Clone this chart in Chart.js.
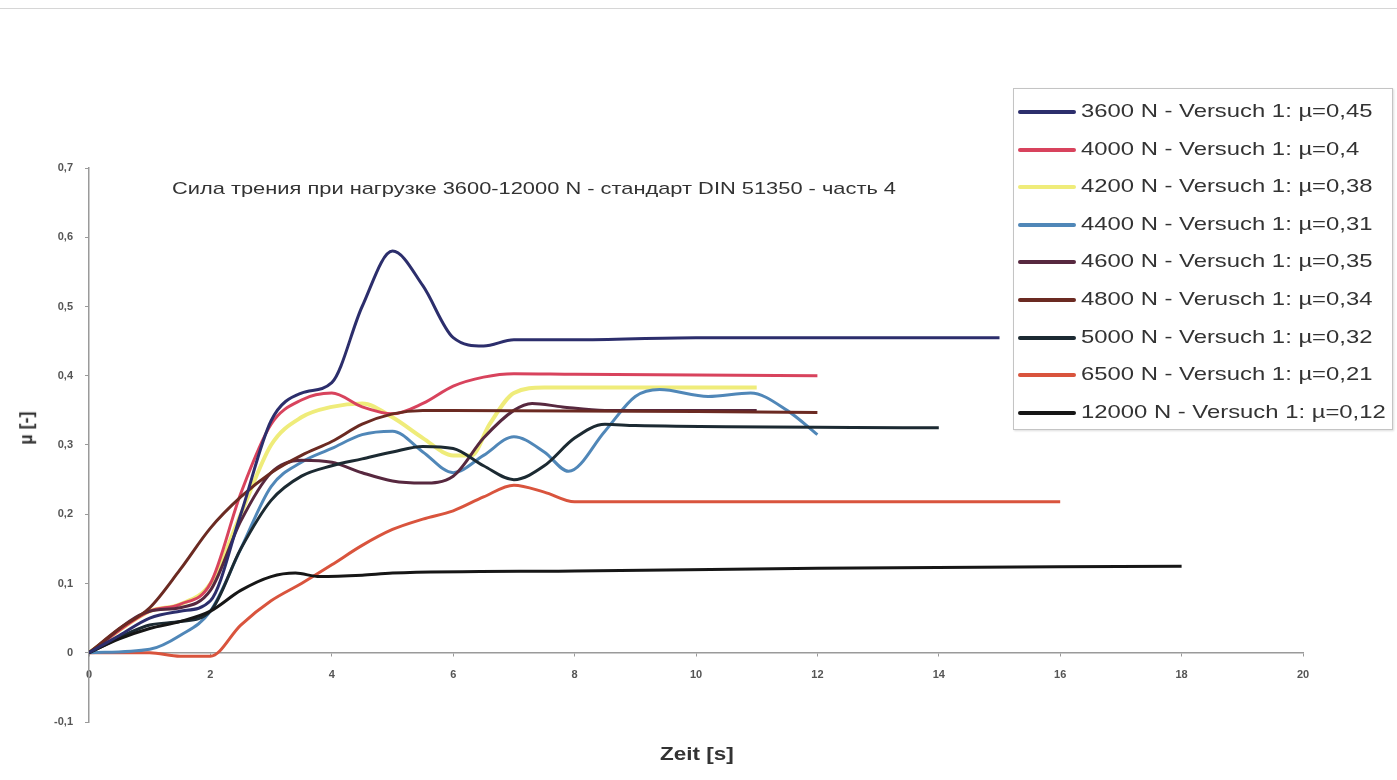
<!DOCTYPE html>
<html>
<head>
<meta charset="utf-8">
<title>Reibkraft DIN 51350</title>
<script src="https://cdn.jsdelivr.net/npm/chart.js@4.4.0/dist/chart.umd.min.js"></script>
<style>
  html, body { margin: 0; padding: 0; background: #fff; }
  #wrap { position: relative; width: 1397px; height: 780px; overflow: hidden; font-family: "Liberation Sans", Arial, sans-serif; }
  #topRule { position: absolute; left: 0; top: 8px; width: 1397px; height: 1px; background: #d6d6d6; }
  #frictionChart { position: absolute; left: 0; top: 0; }
  #chartTitle { position: absolute; left: 172px; top: 179px; font-size: 17px; color: #333; white-space: nowrap; transform: scaleX(1.285); transform-origin: left top; }
  #xTitle { position: absolute; left: 660px; top: 744px; font-size: 18px; font-weight: bold; color: #333; white-space: nowrap; transform: scaleX(1.25); transform-origin: left top; }
  #yTitle { position: absolute; left: 10px; top: 428px; font-size: 18px; font-weight: bold; color: #333; white-space: nowrap; transform: translate(0, -50%) rotate(-90deg); transform-origin: center; }
  #legend { position: absolute; left: 1013px; top: 88px; width: 378px; height: 340px; border: 1px solid #c4c4c4; box-shadow: 1px 1px 2px #ddd; background: #fff; }
  .legend-row { position: absolute; left: 4px; height: 24px; white-space: nowrap; }
  .legend-swatch { position: absolute; left: 0; top: 10px; width: 58px; height: 4px; border-radius: 2px; }
  .legend-text { position: absolute; left: 63px; top: 0; font-size: 19px; color: #333; transform: scaleX(1.255); transform-origin: left top; }
</style>
</head>
<body>
<div id="wrap">
  <div id="topRule"></div>
  <canvas id="frictionChart" width="1397" height="780"></canvas>
  <div id="chartTitle">Сила трения при нагрузке 3600-12000 N - стандарт DIN 51350 - часть 4</div>
  <div id="yTitle">µ [-]</div>
  <div id="xTitle">Zeit [s]</div>
  <div id="legend"></div>
</div>
<script>
// time [s] and friction coefficient per test load
const t3600 = [0, 0.5, 1, 1.5, 2, 2.5, 3, 3.5, 4, 4.5, 5, 5.5, 6, 6.5, 7, 8, 10, 15];
const mu3600 = [0, 0.025, 0.05, 0.06, 0.075, 0.2, 0.335, 0.375, 0.39, 0.5, 0.58, 0.53, 0.455, 0.443, 0.452, 0.452, 0.455, 0.455];

const t4000 = [0, 1, 1.5, 2, 2.5, 3, 3.5, 4, 4.5, 5, 5.5, 6, 6.5, 7, 8, 12];
const mu4000 = [0, 0.06, 0.07, 0.1, 0.23, 0.33, 0.365, 0.375, 0.355, 0.345, 0.36, 0.385, 0.398, 0.403, 0.402, 0.4];

const t4200 = [0, 1, 1.5, 2, 2.5, 3, 3.5, 4, 4.5, 5, 5.5, 6, 6.3, 6.6, 7, 7.5, 9, 11];
const mu4200 = [0, 0.06, 0.07, 0.1, 0.2, 0.3, 0.34, 0.355, 0.36, 0.34, 0.31, 0.285, 0.285, 0.33, 0.375, 0.383, 0.383, 0.383];

const t4400 = [0, 1, 1.5, 2, 2.5, 3, 3.5, 4, 4.5, 5, 5.5, 6, 6.5, 7, 7.5, 7.9, 8.5, 9, 9.4, 10.2, 10.9, 11.5, 12];
const mu4400 = [0, 0.005, 0.025, 0.06, 0.15, 0.24, 0.275, 0.295, 0.315, 0.32, 0.29, 0.26, 0.285, 0.312, 0.29, 0.262, 0.32, 0.37, 0.38, 0.37, 0.375, 0.35, 0.315];

const t4600 = [0, 1, 1.5, 2, 2.5, 3, 3.5, 4, 4.5, 5, 5.5, 6, 6.5, 7, 7.3, 7.8, 8.5, 11];
const mu4600 = [0, 0.06, 0.065, 0.09, 0.19, 0.26, 0.278, 0.275, 0.26, 0.248, 0.245, 0.255, 0.31, 0.35, 0.36, 0.355, 0.35, 0.35];

const t4800 = [0, 0.5, 1, 1.5, 2, 2.5, 3, 3.5, 4, 4.5, 5, 5.5, 6, 12];
const mu4800 = [0, 0.035, 0.065, 0.12, 0.18, 0.225, 0.26, 0.285, 0.305, 0.33, 0.345, 0.35, 0.35, 0.347];

const t5000 = [0, 1, 1.5, 2, 2.5, 3, 3.5, 4, 4.5, 5, 5.5, 6, 6.5, 7, 7.5, 8, 8.5, 9, 14];
const mu5000 = [0, 0.04, 0.045, 0.06, 0.15, 0.22, 0.255, 0.27, 0.28, 0.29, 0.298, 0.295, 0.27, 0.25, 0.27, 0.31, 0.33, 0.328, 0.325];

const t6500 = [0, 1, 1.5, 2, 2.5, 3, 3.5, 4, 4.5, 5, 5.5, 6, 6.5, 7, 7.5, 8, 10, 16];
const mu6500 = [0, 0, -0.005, -0.005, 0.04, 0.075, 0.1, 0.127, 0.155, 0.178, 0.193, 0.205, 0.225, 0.242, 0.232, 0.218, 0.218, 0.218];

const t12000 = [0, 0.5, 1, 1.5, 2, 2.5, 3, 3.4, 3.8, 4.5, 5, 8, 12, 18];
const mu12000 = [0, 0.02, 0.035, 0.045, 0.06, 0.09, 0.11, 0.115, 0.11, 0.112, 0.115, 0.118, 0.122, 0.125];

const seriesLabels = [
  "3600 N - Versuch 1: µ=0,45",
  "4000 N - Versuch 1: µ=0,4",
  "4200 N - Versuch 1: µ=0,38",
  "4400 N - Versuch 1: µ=0,31",
  "4600 N - Versuch 1: µ=0,35",
  "4800 N - Verusch 1: µ=0,34",
  "5000 N - Versuch 1: µ=0,32",
  "6500 N - Versuch 1: µ=0,21",
  "12000 N - Versuch 1: µ=0,12",
];
const seriesTimes = [t3600, t4000, t4200, t4400, t4600, t4800, t5000, t6500, t12000];
const seriesMu = [mu3600, mu4000, mu4200, mu4400, mu4600, mu4800, mu5000, mu6500, mu12000];
const seriesColors = ["#2c2e6c", "#d8435d", "#efec7a", "#5087b8", "#57283f", "#6b2a22", "#1c2a32", "#d9543d", "#161616"];

const xTicks = [0, 2, 4, 6, 8, 10, 12, 14, 16, 18, 20];
const yTicks = [-0.1, 0, 0.1, 0.2, 0.3, 0.4, 0.5, 0.6, 0.7];

function toPoints(xs, ys) {
  return xs.map((x, i) => ({ x: x, y: ys[i] }));
}

function formatMu(value) {
  const r = Math.round(value * 10) / 10;
  if (r === 0) return "0";
  return r.toFixed(1).replace(".", ",");
}

function buildLegend() {
  const box = document.getElementById("legend");
  seriesLabels.forEach((label, i) => {
    const row = document.createElement("div");
    row.className = "legend-row";
    row.style.top = (11 + i * 37.6) + "px";
    row.innerHTML =
      '<span class="legend-swatch" style="background:' + seriesColors[i] + '"></span>' +
      '<span class="legend-text">' + label + "</span>";
    box.appendChild(row);
  });
}

const datasets = seriesLabels.map((label, i) => ({
  label: label,
  data: toPoints(seriesTimes[i], seriesMu[i]),
  borderColor: seriesColors[i],
  backgroundColor: seriesColors[i],
  showLine: true,
  fill: false,
  borderWidth: i === 2 ? 4 : 3,
  pointRadius: 0,
  cubicInterpolationMode: "monotone",
}));

// draw light lines first so the dark ones sit on top, like the original
const drawOrder = [2, 1, 7, 3, 4, 5, 6, 8, 0];
drawOrder.forEach((idx, pos) => { datasets[idx].order = datasets.length - pos; });

const axisGray = "#9a9a9a";

new Chart(document.getElementById("frictionChart"), {
  type: "scatter",
  data: { datasets: datasets },
  options: {
    responsive: false,
    animation: false,
    layout: { padding: { top: 168, right: 94, bottom: 58, left: 0 } },
    plugins: {
      legend: { display: false },
      tooltip: { enabled: false },
    },
    scales: {
      x: {
        type: "linear",
        position: { y: 0 },
        min: 0,
        max: 20,
        afterBuildTicks: (scale) => { scale.ticks = xTicks.map((v) => ({ value: v })); },
        ticks: {
          padding: 13,
          color: "#555",
          font: { family: "Liberation Sans", size: 11, weight: "bold" },
          maxRotation: 0,
        },
        grid: { drawOnChartArea: false, tickLength: 3, color: axisGray },
        border: { color: axisGray, width: 1.5 },
      },
      y: {
        type: "linear",
        min: -0.1,
        max: 0.7,
        afterBuildTicks: (scale) => { scale.ticks = yTicks.map((v) => ({ value: v })); },
        afterFit: (scale) => { scale.width = 89; },
        ticks: {
          padding: 12,
          color: "#555",
          font: { family: "Liberation Sans", size: 11, weight: "bold" },
          callback: (value) => formatMu(value),
        },
        grid: { drawOnChartArea: false, tickLength: 4, color: axisGray },
        border: { color: axisGray, width: 1.5 },
      },
    },
  },
});

buildLegend();
</script>
</body>
</html>
